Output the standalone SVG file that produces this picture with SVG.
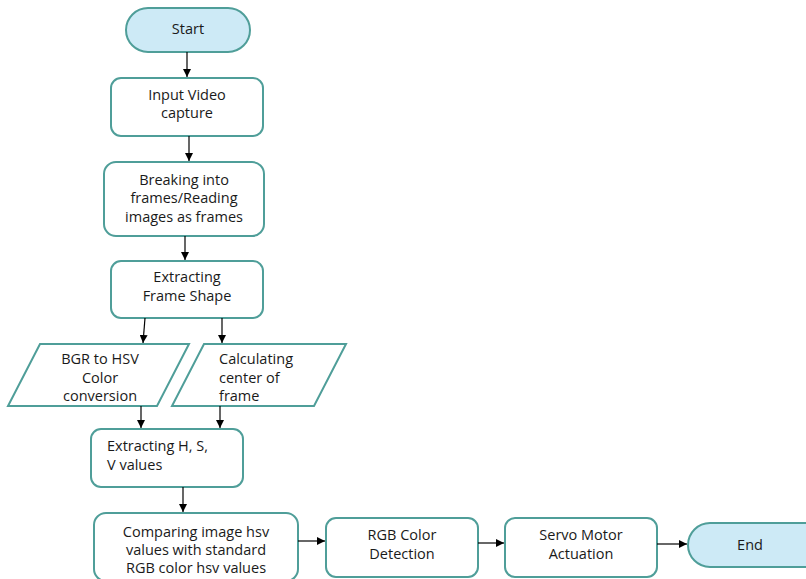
<svg xmlns="http://www.w3.org/2000/svg" width="806" height="579" viewBox="0 0 806 579">
<defs>
<marker id="ah" viewBox="0 0 10 10" refX="10" refY="5" markerWidth="8" markerHeight="8" markerUnits="userSpaceOnUse" orient="auto"><path d="M0,0 L10,5 L0,10 z" fill="#000"/></marker>
<style>
.box{fill:#fff;stroke:#4f9e99;stroke-width:2}
.term{fill:#cdeaf6;stroke:#4f9e99;stroke-width:2}
text{font-family:"Open Sans","Liberation Sans",sans-serif;font-size:14.5px;fill:#1a1a1a}
.c{text-anchor:middle}
.conn line{stroke:#000;stroke-width:1.2;marker-end:url(#ah)}
</style>
</defs>
<rect width="806" height="579" fill="#fff"/>
<g id="start"><rect class="term" x="126" y="8" width="124" height="44" rx="22"/><text class="c" x="188" y="34">Start</text></g>
<g id="input"><rect class="box" x="111" y="78" width="152" height="58" rx="10"/><text class="c" x="187" y="100">Input Video</text><text class="c" x="187" y="118">capture</text></g>
<g id="breaking"><rect class="box" x="104" y="162" width="160" height="74" rx="12"/><text class="c" x="184" y="185">Breaking into</text><text class="c" x="184" y="203">frames/Reading</text><text class="c" x="184" y="222">images as frames</text></g>
<g id="shape"><rect class="box" x="111" y="261" width="152" height="57" rx="10"/><text class="c" x="187" y="282">Extracting</text><text class="c" x="187" y="301">Frame Shape</text></g>
<g id="bgr"><polygon class="box" points="40,344 189,344 157,406 8,406"/><text class="c" x="100" y="364">BGR to HSV</text><text class="c" x="100" y="383">Color</text><text class="c" x="100" y="401">conversion</text></g>
<g id="center"><polygon class="box" points="204,344 346,344 314,406 172,406"/><text x="219" y="364">Calculating</text><text x="219" y="383">center of</text><text x="219" y="401">frame</text></g>
<g id="hsv"><rect class="box" x="91" y="429" width="152" height="58" rx="10"/><text x="107" y="451">Extracting H, S,</text><text x="107" y="470">V values</text></g>
<g id="compare"><rect class="box" x="94" y="513" width="204" height="68" rx="12"/><text class="c" x="196" y="537">Comparing image hsv</text><text class="c" x="196" y="555">values with standard</text><text class="c" x="196" y="573">RGB color hsv values</text></g>
<g id="rgb"><rect class="box" x="326" y="518" width="152" height="59" rx="10"/><text class="c" x="402" y="540">RGB Color</text><text class="c" x="402" y="559">Detection</text></g>
<g id="servo"><rect class="box" x="505" y="518" width="152" height="59" rx="10"/><text class="c" x="581" y="540">Servo Motor</text><text class="c" x="581" y="559">Actuation</text></g>
<g id="end"><rect class="term" x="688" y="523" width="150" height="44" rx="22"/><text class="c" x="750" y="550">End</text></g>
<g class="conn">
<line x1="187" y1="52" x2="187" y2="77"/>
<line x1="189" y1="136" x2="189" y2="161"/>
<line x1="185" y1="236" x2="185" y2="260"/>
<line x1="145" y1="318" x2="143" y2="343"/>
<line x1="222" y1="318" x2="222" y2="343"/>
<line x1="141" y1="406" x2="141" y2="428"/>
<line x1="220" y1="406" x2="220" y2="428"/>
<line x1="183" y1="487" x2="183" y2="512"/>
<line x1="298" y1="541" x2="325" y2="541"/>
<line x1="478" y1="543" x2="504" y2="543"/>
<line x1="657" y1="544" x2="687" y2="544"/>
</g>
</svg>
